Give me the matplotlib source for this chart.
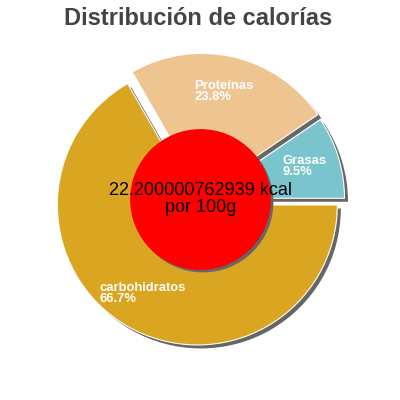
import matplotlib
matplotlib.use("Agg")
import matplotlib.pyplot as plt
from matplotlib.patches import Wedge, Circle
from matplotlib.transforms import ScaledTranslation

# ---- data ----
categories = ["Grasas", "Proteínas", "carbohidratos"]
percentages = [9.5, 23.8, 66.7]
colors = ["#7AC5CD", "#EEC591", "#DAA520"]
kcal_line = "22.200000762939 kcal"
per_line = "por 100g"
title = "Distribución de calorías"

# ---- style / layout ----
explode = [0.03, 0.045, 0.045]
label_pos = [(0.589, 0.318), (-0.046, 0.854), (-0.718, -0.589)]
FONT = ["Liberation Sans", "DejaVu Sans"]
R = 140.0
cx_px, cy_px = 200.5, 200.5  # pie centre (pixels from left / bottom)

fig = plt.figure(figsize=(4, 4), dpi=100)
ax = fig.add_axes([0, 0, 1, 1])

wedges, _ = ax.pie(percentages, explode=explode, colors=colors, startangle=0,
                   counterclock=True, radius=1, center=(0, 0), frame=False,
                   wedgeprops=dict(edgecolor="white", linewidth=0.8))
ax.set_xlim(-cx_px / R, (400 - cx_px) / R)
ax.set_ylim(-cy_px / R, (400 - cy_px) / R)
ax.set_aspect("equal")
ax.axis("off")

off = ax.transData + ScaledTranslation(3.5 / 100, -3.5 / 100, fig.dpi_scale_trans)
for i, w in enumerate(wedges):
    w.set_zorder(2 * i + 1)
    sh = Wedge(w.center, w.r, w.theta1, w.theta2, facecolor="#666666",
               edgecolor="none", transform=off, zorder=2 * i + 0.5)
    ax.add_patch(sh)

off2 = ax.transData + ScaledTranslation(2.5 / 100, -2.5 / 100, fig.dpi_scale_trans)
ax.add_patch(Circle((0, 0), 0.503, facecolor="#666666", edgecolor="none",
                    transform=off2, zorder=8))
ax.add_patch(Circle((0, 0), 0.503, facecolor="#FF0000", edgecolor="none", zorder=9))

for (x, y), cat, p in zip(label_pos, categories, percentages):
    ax.text(x, y, f"{cat}\n{p}%", ha="left", va="top", color="white",
            fontsize=9.4, fontweight="bold", family=FONT, linespacing=0.86, zorder=10)

ax.text(0, 0.032, kcal_line, ha="center", va="baseline", fontsize=13,
        family=FONT, color="black", zorder=11)
ax.text(0, -0.087, per_line, ha="center", va="baseline", fontsize=13,
        family=FONT, color="black", zorder=11)

fig.text(0.495, 1 - 25 / 400, title, ha="center", va="baseline", fontsize=17,
         fontweight="bold", family=FONT, color="#444444")

fig.savefig("out.png", dpi=100)
